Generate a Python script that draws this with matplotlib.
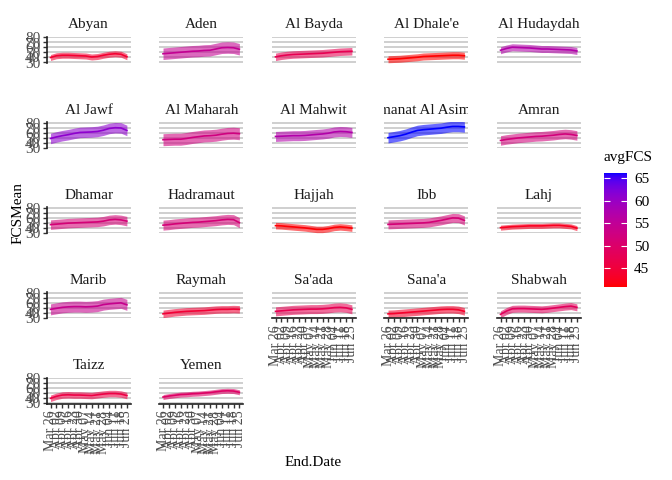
import numpy as np
import matplotlib
matplotlib.use('Agg')
import matplotlib.pyplot as plt
import matplotlib.dates as mdates
from matplotlib.colors import ListedColormap, Normalize
from matplotlib.colorbar import ColorbarBase
from matplotlib.transforms import Bbox, TransformedBbox

plt.rcParams['font.family'] = ['Liberation Serif', 'DejaVu Serif']

# weekly dates, Mar 26 .. Jun 25
dates = np.arange(np.datetime64('2020-03-26'), np.datetime64('2020-07-02'), np.timedelta64(7, 'D'))

governorates = ['Abyan', 'Aden', 'Al Bayda', "Al Dhale'e", 'Al Hudaydah',
                'Al Jawf', 'Al Maharah', 'Al Mahwit', 'Amanat Al Asimah', 'Amran',
                'Dhamar', 'Hadramaut', 'Hajjah', 'Ibb', 'Lahj',
                'Marib', 'Raymah', "Sa'ada", "Sana'a", 'Shabwah',
                'Taizz', 'Yemen']

fcs_mean = [
    [40, 43.5, 44.5, 44.5, 44, 43.5, 43, 41, 42, 44.5, 46.5, 47.5, 46.5, 41.5],
    [47.5, 48.5, 49.5, 50.5, 51.5, 52.5, 53, 54, 54.5, 57, 59.5, 60, 59.5, 56.5],
    [41.3, 43.5, 45, 46, 46.5, 47, 47.5, 48, 48.5, 49.5, 50.5, 51.5, 52, 52.5],
    [36.5, 37, 37.5, 38.5, 39.5, 40.5, 42, 42.5, 43, 43.5, 44, 44.5, 44.5, 43.5],
    [54.5, 58, 60.5, 60, 59.5, 59, 58, 57, 57, 56.5, 56, 55.5, 55, 53],
    [48.5, 51.5, 54, 56, 58.5, 60.5, 61, 61.5, 62.5, 65, 68.5, 70, 69.5, 64.5],
    [46, 46.5, 47, 47, 48.5, 50.5, 52, 53.5, 54, 55, 57, 58.5, 59, 58],
    [52.5, 53, 53.5, 54, 54, 54.5, 55.5, 56.5, 57.5, 59, 61.5, 62.5, 62, 60.5],
    [50, 52, 54, 57, 61, 64.5, 66, 67, 68, 69, 71, 72.5, 72.5, 71.5],
    [44.5, 46.5, 48, 49.5, 50.5, 51.5, 52.5, 53, 54, 55, 56.5, 57.5, 56.5, 54.5],
    [46.5, 47.5, 48.5, 49.5, 50, 50.5, 51, 51.5, 52, 53.5, 56, 57, 56, 53.5],
    [45.5, 46.5, 48, 49, 50, 51, 51.5, 52.5, 53.5, 54.5, 56, 57, 56.5, 50.5],
    [44.5, 44, 43, 42, 41, 40, 38.5, 37, 37, 38.5, 41, 42, 41, 39.5],
    [47, 47.5, 48, 48.5, 49, 49.5, 50, 51, 53, 55, 57.5, 60, 59.5, 55],
    [40.5, 41.5, 42.5, 43, 43.5, 44, 44, 44, 44.5, 45, 45, 44, 43, 39.5],
    [47.5, 49.5, 51.5, 52.5, 53, 53, 52.5, 53, 54, 57, 58.5, 59.5, 60.5, 56.5],
    [38.5, 40, 41.5, 42.5, 43.5, 44, 44.5, 45, 46, 47, 47.5, 47.5, 48, 47.5],
    [43.5, 44.5, 45.5, 46.5, 47, 47.5, 48, 48, 48.5, 49.5, 51, 51.5, 50.5, 47.5],
    [38.5, 39, 40, 41, 42, 43, 44, 45, 46, 47, 47.5, 47.5, 46.5, 43.5],
    [37.5, 44, 48.5, 49, 49, 48.5, 48, 47.5, 48.5, 50, 51.5, 53, 54, 51.5],
    [40, 44, 46.5, 47, 46.5, 46.5, 46, 45.5, 47, 48.5, 49.5, 49.5, 48.5, 45.5],
    [42.5, 44.5, 46, 47.5, 48, 49, 49.5, 50.5, 51.5, 53, 54.5, 55, 54.5, 52],
]

# half width of the band around each line
band = [6, 11.5, 7.5, 7, 7, 10.5, 12, 10, 10.5, 9.5, 9.5, 10, 6.5, 9, 5, 11, 7.5, 9, 7.5, 7, 6.5, 5]

avg_fcs = [44, 54.5, 47.5, 40.8, 57, 61, 52.5, 57, 66.2, 52, 51.5, 51.5, 41, 51.5, 42.5,
           54, 44.5, 47.5, 43.5, 48.5, 46, 49.5]

y_ticks = [30, 40, 50, 60, 70, 80]
cbar_ticks = [45, 50, 55, 60, 65]


# red -> blue gradient, interpolated in Lab like ggplot
M = np.array([[0.4124564, 0.3575761, 0.1804375],
              [0.2126729, 0.7151522, 0.0721750],
              [0.0193339, 0.1191920, 0.9503041]])
WHITE = np.array([0.95047, 1.0, 1.08883])


def to_lab(rgb):
    rgb = np.asarray(rgb, float)
    lin = np.where(rgb > 0.04045, ((rgb + 0.055) / 1.055) ** 2.4, rgb / 12.92)
    xyz = M @ lin / WHITE
    f = np.where(xyz > 0.008856, np.cbrt(xyz), 7.787 * xyz + 16 / 116)
    return np.array([116 * f[1] - 16, 500 * (f[0] - f[1]), 200 * (f[1] - f[2])])


def from_lab(lab):
    fy = (lab[0] + 16) / 116
    f = np.array([fy + lab[1] / 500, fy, fy - lab[2] / 200])
    xyz = np.where(f ** 3 > 0.008856, f ** 3, (f - 16 / 116) / 7.787) * WHITE
    lin = np.clip(np.linalg.inv(M) @ xyz, 0, 1)
    return np.clip(np.where(lin > 0.0031308, 1.055 * lin ** (1 / 2.4) - 0.055, 12.92 * lin), 0, 1)


lo, hi = to_lab([1, 0, 0]), to_lab([0, 0, 1])
cmap = ListedColormap([from_lab(lo + (hi - lo) * t) for t in np.linspace(0, 1, 256)])
norm = Normalize(vmin=40.8, vmax=66.2)

W, H = 672, 480
fig = plt.figure(figsize=(W / 100, H / 100), dpi=100)


def add_ax(left, top, width, height):
    return fig.add_axes([left / W, 1 - (top + height) / H, width / W, height / H])


x0 = mdates.date2num(dates[0])
x1 = mdates.date2num(dates[-1])
pad = (x1 - x0) * 0.05
n = len(governorates)

for k, name in enumerate(governorates):
    r, c = divmod(k, 5)
    left = 46.7 + c * 112.5
    top80 = 37.5 + r * 85.2
    ax = add_ax(left, top80 - 0.75, 84, 26.05)
    col = cmap(norm(avg_fcs[k]))
    y = np.array(fcs_mean[k])
    ax.fill_between(dates, y - band[k], y + band[k], color=col, alpha=0.58, lw=0)
    ax.plot(dates, y, color=col, lw=1.2)

    ax.set_xlim(x0 - pad, x1 + pad)
    ax.set_ylim(29.4, 81.5)
    ax.set_yticks(y_ticks)
    ax.set_xticks(dates)
    ax.xaxis.set_major_formatter(mdates.DateFormatter('%b %d'))
    ax.set_axisbelow(True)
    ax.yaxis.grid(True, color='#CBCBCB', lw=1.3)
    for s in ax.spines.values():
        s.set_visible(False)

    first_col = c == 0
    bottom = k + 5 >= n
    ax.tick_params(axis='y', labelleft=first_col, length=3 if first_col else 0,
                   labelsize=11, labelcolor='#4D4D4D', color='#333333', width=1, pad=1.5)
    ax.tick_params(axis='x', labelbottom=bottom, length=3 if bottom else 0,
                   labelsize=10, labelcolor='#4D4D4D', color='#333333', width=1,
                   labelrotation=90, pad=2)
    if first_col:
        ax.spines['left'].set_visible(True)
        ax.spines['left'].set_linewidth(1.2)
        ax.spines['left'].set_color('#222222')
    if bottom:
        ax.spines['bottom'].set_visible(True)
        ax.spines['bottom'].set_linewidth(1.2)
        ax.spines['bottom'].set_color('#222222')

    t = ax.set_title(name, fontsize=11, pad=6, color='#1A1A1A')
    t.set_clip_on(True)
    t.set_clip_box(TransformedBbox(Bbox([[0, 1], [1, 3]]), ax.transAxes))

# axis titles
fig.text(18 / W, 1 - 213 / H, 'FCSMean', rotation=90, ha='center', va='center', fontsize=11)
fig.text(313 / W, 1 - 463 / H, 'End.Date', ha='center', va='center', fontsize=11)

# colour bar legend
cax = add_ax(604, 173, 23, 114)
cb = ColorbarBase(cax, cmap=cmap, norm=norm, ticks=cbar_ticks)
cb.outline.set_visible(False)
cax.tick_params(color='white', direction='in', left=True, right=True, length=4,
                width=0.8, labelsize=11, pad=5)
fig.text(604 / W, 1 - 157 / H, 'avgFCS', ha='left', va='center', fontsize=11)

fig.savefig('out.png', dpi=100)
